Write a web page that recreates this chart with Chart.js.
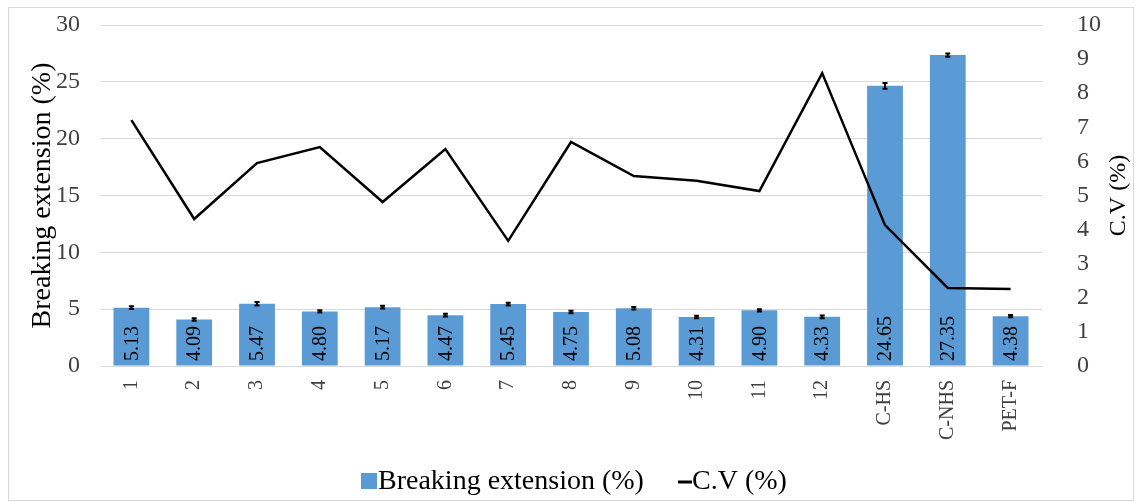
<!DOCTYPE html>
<html>
<head>
<meta charset="utf-8">
<script src="https://cdn.jsdelivr.net/npm/chart.js@4.4.1/dist/chart.umd.min.js"></script>
<style>
  html, body { margin: 0; padding: 0; background: #fff; }
  #marco { position: absolute; left: 8px; top: 7px; width: 1124px; height: 492px; border: 1px solid #d9d9d9; }
  #lienzo { position: absolute; left: 0; top: 0; }
</style>
</head>
<body>
<div id="marco"></div>
<canvas id="lienzo" width="1140" height="502"></canvas>
<script>
const categorias = ['1', '2', '3', '4', '5', '6', '7', '8', '9', '10', '11', '12', 'C-HS', 'C-NHS', 'PET-F'];
const extension = [5.13, 4.09, 5.47, 4.80, 5.17, 4.47, 5.45, 4.75, 5.08, 4.31, 4.90, 4.33, 24.65, 27.35, 4.38];
const errores = [0.12, 0.12, 0.15, 0.1, 0.12, 0.12, 0.12, 0.12, 0.1, 0.1, 0.1, 0.12, 0.25, 0.15, 0.1];
const cv = [7.21, 4.31, 5.95, 6.42, 4.81, 6.36, 3.67, 6.57, 5.57, 5.43, 5.13, 8.59, 4.13, 2.29, 2.26];
const ticksIzq = [0, 5, 10, 15, 20, 25, 30];
const ticksDer = [0, 1, 2, 3, 4, 5, 6, 7, 8, 9, 10];

const fuente = 'Liberation Serif';
const azul = '#5b9bd5';

// barras de error, etiquetas dentro de las barras, titulo derecho y leyenda
const extras = {
  id: 'extras',
  afterDatasetsDraw(chart) {
    const ctx = chart.ctx;
    const y = chart.scales.y;
    const meta = chart.getDatasetMeta(0);
    ctx.save();
    ctx.strokeStyle = '#000';
    ctx.lineWidth = 2;
    meta.data.forEach((barra, i) => {
      const arriba = y.getPixelForValue(extension[i] + errores[i]);
      const abajo = y.getPixelForValue(extension[i] - errores[i]);
      ctx.beginPath();
      ctx.moveTo(barra.x, arriba);
      ctx.lineTo(barra.x, abajo);
      ctx.moveTo(barra.x - 2.5, arriba);
      ctx.lineTo(barra.x + 2.5, arriba);
      ctx.moveTo(barra.x - 2.5, abajo);
      ctx.lineTo(barra.x + 2.5, abajo);
      ctx.stroke();
    });
    ctx.fillStyle = '#000';
    ctx.font = '20px "' + fuente + '"';
    ctx.textAlign = 'left';
    ctx.textBaseline = 'middle';
    meta.data.forEach((barra, i) => {
      ctx.save();
      ctx.translate(barra.x + 1, y.getPixelForValue(0) - 5);
      ctx.rotate(-Math.PI / 2);
      ctx.fillText(extension[i].toFixed(2), 0, 0);
      ctx.restore();
    });
    ctx.restore();
  },
  afterDraw(chart) {
    const ctx = chart.ctx;
    const area = chart.chartArea;
    ctx.save();
    // titulo del eje derecho
    ctx.fillStyle = '#000';
    ctx.font = '24px "' + fuente + '"';
    ctx.textAlign = 'center';
    ctx.textBaseline = 'middle';
    ctx.translate(1119, (area.top + area.bottom) / 2);
    ctx.rotate(-Math.PI / 2);
    ctx.fillText('C.V (%)', 0, 0);
    ctx.restore();

    // leyenda
    ctx.save();
    const ly = 482;
    ctx.font = '28px "' + fuente + '"';
    ctx.textBaseline = 'middle';
    ctx.textAlign = 'left';
    ctx.fillStyle = azul;
    ctx.fillRect(361, ly - 9, 16, 16);
    ctx.fillStyle = '#000';
    ctx.fillText(chart.data.datasets[0].label, 378, ly);
    ctx.strokeStyle = '#000';
    ctx.lineWidth = 3;
    ctx.beginPath();
    ctx.moveTo(678, ly);
    ctx.lineTo(692, ly);
    ctx.stroke();
    ctx.fillText(chart.data.datasets[1].label, 692, ly);
    ctx.restore();
  }
};

new Chart(document.getElementById('lienzo'), {
  data: {
    labels: categorias,
    datasets: [
      {
        type: 'bar',
        label: 'Breaking extension (%)',
        data: extension,
        backgroundColor: azul,
        yAxisID: 'y',
        categoryPercentage: 1,
        barPercentage: 0.57,
        order: 2
      },
      {
        type: 'line',
        label: 'C.V (%)',
        data: cv,
        borderColor: '#000',
        backgroundColor: '#000',
        borderWidth: 2.5,
        pointRadius: 0,
        tension: 0,
        yAxisID: 'y1',
        order: 1
      }
    ]
  },
  options: {
    responsive: false,
    animation: false,
    layout: { padding: { top: 25, left: 0, right: 0, bottom: 56 } },
    plugins: {
      tooltip: { enabled: false },
      legend: { display: false }
    },
    scales: {
      x: {
        grid: { display: false },
        border: { display: false },
        ticks: {
          minRotation: 90,
          maxRotation: 90,
          color: '#404040',
          font: { family: fuente, size: 20 },
          padding: 6
        },
        afterFit: s => { s.height = 80; }
      },
      y: {
        position: 'left',
        min: 0,
        max: 30,
        afterBuildTicks: s => { s.ticks = ticksIzq.map(v => ({ value: v })); },
        grid: { color: '#d9d9d9', lineWidth: 1, drawTicks: true, tickLength: 18, tickColor: 'rgba(0,0,0,0)' },
        border: { display: false },
        ticks: { color: '#404040', font: { family: fuente, size: 24 }, padding: 2, autoSkip: false },
        title: {
          display: true,
          text: 'Breaking extension (%)',
          color: '#000',
          font: { family: fuente, size: 28 },
          padding: { top: 26, bottom: 0 }
        },
        afterFit: s => { s.width = 100; }
      },
      y1: {
        position: 'right',
        min: 0,
        max: 10,
        afterBuildTicks: s => { s.ticks = ticksDer.map(v => ({ value: v })); },
        grid: { display: false, drawTicks: true, tickLength: 33 },
        border: { display: false },
        ticks: { color: '#404040', font: { family: fuente, size: 24 }, padding: 2, autoSkip: false },
        afterFit: s => { s.width = 98; }
      }
    }
  },
  plugins: [extras]
});
</script>
</body>
</html>
